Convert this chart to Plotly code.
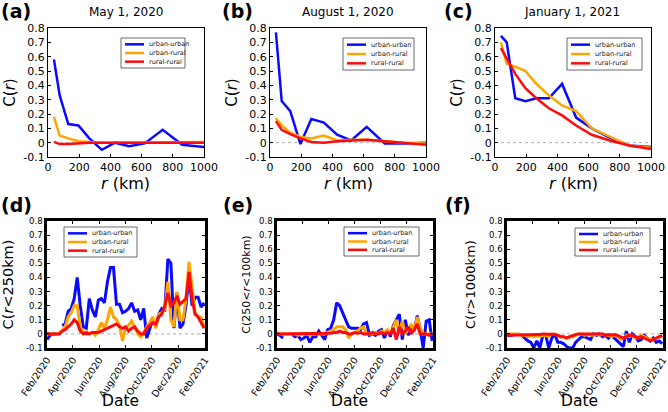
import plotly.graph_objects as go
import pandas as pd

W, H = 668, 412
FONT = "DejaVu Sans"
BLUE, ORANGE, RED = "#0a0aff", "#ffa500", "#ff0a0a"
SERIES_NAMES = ["urban-urban", "urban-rural", "rural-rural"]
SERIES_COLORS = [BLUE, ORANGE, RED]

# ---------------- top row: C(r) vs r ----------------
r_km = [38, 75, 130, 195, 265, 345, 430, 520, 620, 735, 860, 1000]
may_uu = [0.58, 0.33, 0.13, 0.12, 0.03, -0.05, 0.0, -0.025, -0.005, 0.09, -0.015, -0.03]
may_ur = [0.18, 0.05, 0.03, 0.01, 0.005, 0.0, 0.0, 0.0, 0.0, 0.0, 0.0, 0.005]
may_rr = [0.005, -0.01, -0.01, -0.005, 0.0, 0.0, 0.0, 0.0, 0.0, 0.0, 0.0, 0.0]
aug_uu = [0.77, 0.29, 0.22, -0.01, 0.165, 0.14, 0.055, 0.015, 0.11, -0.005, -0.005, 0.0]
aug_ur = [0.17, 0.12, 0.07, 0.04, 0.03, 0.05, 0.015, 0.02, 0.02, 0.01, 0.0, -0.005]
aug_rr = [0.15, 0.09, 0.06, 0.03, 0.005, 0.0, 0.01, 0.015, 0.02, 0.01, 0.0, -0.015]
jan_uu = [0.745, 0.70, 0.31, 0.29, 0.31, 0.31, 0.41, 0.175, 0.10, 0.035, -0.02, -0.03]
jan_ur = [0.70, 0.55, 0.53, 0.50, 0.41, 0.33, 0.26, 0.22, 0.10, 0.04, -0.02, -0.035]
jan_rr = [0.66, 0.59, 0.48, 0.38, 0.31, 0.24, 0.19, 0.12, 0.055, 0.015, -0.02, -0.045]

# ---------------- bottom row: weekly time series ----------------
dates = pd.date_range("2020-02-01", periods=53, freq="7D")
d_uu = [-0.04, -0.01, 0.0, 0.0, None, 0.06, 0.07, 0.16, 0.18, 0.25,
        0.40, 0.20, 0.05, 0.04, 0.25, 0.17, 0.12, 0.24, 0.25, 0.22,
        0.37, 0.47, 0.47, 0.21, 0.21, 0.15, 0.16, 0.18, 0.22, 0.16,
        0.17, 0.10, 0.18, -0.03, 0.04, 0.10, 0.06, 0.14, 0.18, 0.17,
        0.53, 0.50, 0.04, 0.29, 0.04, 0.07, 0.20, 0.42, 0.20, 0.26,
        0.26, 0.19, 0.22]
d_ur = [0.01, 0.0, 0.0, 0.0, 0.0, 0.02, 0.05, 0.12, 0.15, 0.20,
        0.20, 0.05, 0.02, 0.0, 0.0, 0.01, -0.01, 0.03, 0.08, 0.04,
        0.10, 0.19, 0.12, 0.10, 0.06, -0.05, 0.05, 0.06, 0.09, 0.05,
        0.0, -0.02, 0.01, 0.05, 0.08, 0.12, 0.04, 0.14, 0.15, 0.17,
        0.37, 0.10, 0.05, 0.30, 0.10, 0.10, 0.25, 0.51, 0.35, 0.15,
        0.12, 0.12, 0.05]
d_rr = [0.0, 0.0, 0.0, 0.0, 0.0, 0.02, 0.03, 0.05, 0.07, 0.10,
        0.08, 0.02, 0.0, 0.01, 0.0, 0.01, 0.01, 0.01, 0.02, 0.03,
        0.04, 0.05, 0.06, 0.07, 0.05, 0.04, 0.05, 0.02, 0.04, 0.05,
        0.02, 0.0, 0.0, 0.04, 0.06, 0.08, 0.07, 0.12, 0.14, 0.20,
        0.29, 0.20, 0.22, 0.27, 0.21, 0.23, 0.25, 0.44, 0.25, 0.14,
        0.12, 0.08, 0.04]
e_uu = [0.0, -0.01, -0.03, None, None, 0.0, -0.02, -0.01, -0.04, -0.03,
        -0.01, -0.06, -0.02, -0.02, 0.02, -0.01, -0.04, 0.03, 0.04, 0.10,
        0.22, 0.20, 0.15, 0.10, 0.05, 0.04, 0.04, 0.04, 0.03, 0.07,
        0.08, -0.01, 0.0, -0.01, 0.02, 0.03, -0.03, 0.03, -0.02, 0.06,
        0.10, 0.14, -0.04, 0.10, -0.01, 0.06, 0.02, 0.13, 0.03, -0.10,
        0.09, 0.10, -0.05]
e_ur = [0.01, 0.0, 0.0, 0.0, 0.0, 0.0, 0.0, -0.01, 0.0, 0.0,
        0.0, -0.01, 0.0, 0.0, 0.0, 0.0, 0.0, 0.01, 0.02, 0.03,
        0.05, 0.05, 0.05, 0.03, -0.03, 0.0, 0.01, 0.02, 0.04, 0.05,
        0.0, 0.0, 0.0, 0.01, 0.0, 0.02, 0.01, 0.03, 0.0, 0.05,
        0.10, 0.0, 0.09, 0.0, 0.03, 0.07, 0.02, 0.12, 0.04, 0.0,
        0.0, 0.0, 0.0]
e_rr = [0.0, 0.0, 0.0, 0.0, 0.0, 0.0, 0.0, 0.0, 0.0, 0.0,
        0.0, 0.0, 0.0, 0.0, 0.0, 0.0, 0.0, 0.0, 0.005, 0.01,
        0.01, 0.02, 0.01, 0.01, 0.0, 0.0, 0.01, 0.005, 0.01, 0.0,
        0.0, 0.0, 0.01, 0.0, 0.0, 0.01, 0.0, 0.01, 0.0, 0.04,
        -0.04, 0.05, 0.0, 0.02, 0.05, 0.0, 0.03, 0.07, 0.0, 0.0,
        0.0, -0.01, 0.0]
f_uu = [-0.01, -0.01, -0.01, None, None, -0.01, -0.03, -0.05, -0.06, -0.10,
        -0.05, -0.10, -0.01, -0.01, -0.10, -0.03, 0.0, -0.06, -0.06, -0.07,
        -0.09, -0.10, -0.10, -0.06, -0.04, -0.02, -0.02, -0.03, -0.04, 0.0,
        -0.01, 0.0, -0.02, -0.01, -0.03, -0.01, -0.03, -0.05, -0.07, -0.09,
        0.02, -0.06, 0.0, -0.02, -0.05, -0.04, -0.01, -0.03, -0.05, -0.03,
        -0.06, -0.05, -0.07]
f_ur = [0.0, 0.0, 0.0, 0.0, 0.0, -0.01, -0.01, -0.02, -0.01, -0.02,
        -0.01, -0.02, -0.01, -0.01, -0.02, 0.0, 0.0, -0.01, -0.02, -0.02,
        -0.03, -0.02, -0.02, -0.01, 0.0, 0.0, -0.01, 0.0, -0.01, -0.01,
        0.0, -0.01, 0.0, -0.01, -0.01, -0.02, -0.01, -0.02, -0.04, -0.03,
        -0.01, -0.02, -0.01, -0.03, -0.02, -0.01, -0.02, -0.03, -0.04, -0.04,
        -0.03, -0.02, -0.01]
f_rr = [-0.01, -0.01, -0.01, -0.01, -0.01, -0.005, -0.005, -0.01, -0.005, -0.005,
        -0.005, -0.005, 0.0, 0.0, -0.005, -0.005, -0.005, -0.01, -0.02, -0.02,
        -0.03, -0.02, -0.01, -0.005, 0.0, 0.0, -0.005, -0.005, -0.005, 0.0,
        -0.005, -0.005, 0.0, -0.01, -0.005, -0.01, -0.005, -0.01, -0.02, -0.03,
        -0.02, -0.01, -0.01, -0.02, -0.03, -0.02, -0.03, -0.04, -0.05, -0.04,
        -0.03, -0.02, -0.01]

y_ticks = [-0.1, 0, 0.1, 0.2, 0.3, 0.4, 0.5, 0.6, 0.7, 0.8]
y_ticktext = ["-0.1", "0", "0.1", "0.2", "0.3", "0.4", "0.5", "0.6", "0.7", "0.8"]
r_ticks = [0, 200, 400, 600, 800, 1000]
date_ticks = ["2020-02-01", "2020-04-01", "2020-06-01", "2020-08-01",
              "2020-10-01", "2020-12-01", "2021-02-01"]
date_ticktext = ["Feb/2020", "Apr/2020", "Jun/2020", "Aug/2020",
                 "Oct/2020", "Dec/2020", "Feb/2021"]

top_titles = ["May 1, 2020", "August 1, 2020", "January 1, 2021"]
bottom_ytitles = ["C(<i>r</i>&lt;250km)", "C(250&lt;<i>r</i>&lt;100km)", "C(<i>r</i>&gt;1000km)"]
panel_letters = ["(a)", "(b)", "(c)", "(d)", "(e)", "(f)"]

# ---------------- layout geometry (pixels) ----------------
boxes = [(48, 204, 28, 157), (270, 426, 28, 157), (495, 651, 28, 157),
         (47, 205, 221, 348), (277, 433, 221, 348), (507, 663, 221, 348)]
legend_boxes = [(121, 185, 38, 68), (343, 414, 38, 70), (567, 642, 38, 70),
                (64, 137, 227, 257), (344, 419, 227, 256), (575, 650, 228, 256)]
letter_pos = [(16, 11), (238, 11), (458, 11), (16, 205), (238, 205), (458, 205)]
title_pos = [(126, 12), (348, 12), (572, 12)]
ytitle_fs = [14.5, 11, 13]
ytitle_standoff = [4, 4, 4, 11, 4, 8]


def px(x):
    return x / W


def py(y):
    return 1 - y / H


fig = go.Figure()

top_data = [(may_uu, may_ur, may_rr), (aug_uu, aug_ur, aug_rr), (jan_uu, jan_ur, jan_rr)]
bottom_data = [(d_uu, d_ur, d_rr), (e_uu, e_ur, e_rr), (f_uu, f_ur, f_rr)]

for k in range(6):
    ax = "" if k == 0 else str(k + 1)
    xa, ya = "x" + ax, "y" + ax
    if k < 3:
        xs = r_km
        sets = top_data[k]
        lw = 2.5
    else:
        xs = dates
        sets = bottom_data[k - 3]
        lw = 3
    for vals, name, col in zip(sets, SERIES_NAMES, SERIES_COLORS):
        fig.add_trace(go.Scatter(x=xs, y=vals, mode="lines", name=name,
                                 line=dict(color=col, width=lw),
                                 xaxis=xa, yaxis=ya, showlegend=False,
                                 connectgaps=False))

layout = dict(width=W, height=H, margin=dict(l=0, r=0, t=0, b=0),
              paper_bgcolor="white", plot_bgcolor="white",
              font=dict(family=FONT, color="black"))
shapes, annotations = [], []

for k in range(6):
    L, R, T, B = boxes[k]
    ax = "" if k == 0 else str(k + 1)
    top = k < 3
    xaxis = dict(domain=[px(L), px(R)], anchor="y" + ax, automargin=False,
                 showline=True, linecolor="black", mirror="ticks" if not top else True,
                 linewidth=1 if top else 2.5, ticks="inside",
                 ticklen=3, tickcolor="black", showgrid=False, zeroline=False,
                 ticklabeloverflow="allow")
    yaxis = dict(domain=[py(B), py(T)], anchor="x" + ax, automargin=False,
                 range=[-0.1, 0.8], tickvals=y_ticks, ticktext=y_ticktext,
                 showline=True, linecolor="black", mirror="ticks" if not top else True,
                 linewidth=1 if top else 2.5, ticks="inside", ticklen=3,
                 tickcolor="black", showgrid=False, zeroline=False)
    if top:
        xaxis.update(range=[0, 1000], tickvals=r_ticks, tickfont=dict(size=11))
        yaxis.update(tickfont=dict(size=11),
                     title=dict(text="C(<i>r</i>)", font=dict(size=15),
                                standoff=ytitle_standoff[k]))
        annotations.append(dict(text="<i>r</i> (km)", xref="paper", yref="paper",
                                x=px((L + R) / 2), y=py(183), xanchor="center",
                                yanchor="middle", showarrow=False,
                                font=dict(size=16)))
    else:
        xaxis.update(type="date", range=["2020-02-01", "2021-02-01"],
                     tickvals=date_ticks, ticktext=date_ticktext, tickangle=-56,
                     tickfont=dict(size=9.5))
        yaxis.update(tickfont=dict(size=8.5),
                     title=dict(text=bottom_ytitles[k - 3],
                                font=dict(size=ytitle_fs[k - 3]),
                                standoff=ytitle_standoff[k]))
        annotations.append(dict(text="Date", xref="paper", yref="paper",
                                x=px((L + R) / 2 - 6), y=py(401), xanchor="center",
                                yanchor="middle", showarrow=False,
                                font=dict(size=15.5)))
    layout["xaxis" + ax] = xaxis
    layout["yaxis" + ax] = yaxis

    # dotted zero reference line
    shapes.append(dict(type="line", xref="x" + ax + " domain", yref="y" + ax,
                       x0=0, x1=1, y0=0, y1=0,
                       line=dict(color="#888888", width=0.7, dash="dot"),
                       layer="below"))

    # legend box
    lL, lR, lT, lB = legend_boxes[k]
    shapes.append(dict(type="rect", xref="paper", yref="paper",
                       x0=px(lL), x1=px(lR), y0=py(lB), y1=py(lT),
                       fillcolor="white", line=dict(color="#444444", width=0.8)))
    step = (lB - lT - 4) / 3.0
    for j, (name, col) in enumerate(zip(SERIES_NAMES, SERIES_COLORS)):
        yy = lT + 2 + step * (j + 0.5)
        shapes.append(dict(type="line", xref="paper", yref="paper",
                           x0=px(lL + 4), x1=px(lL + 23), y0=py(yy), y1=py(yy),
                           line=dict(color=col, width=2.5)))
        annotations.append(dict(text=name, xref="paper", yref="paper",
                                x=px(lL + 26), y=py(yy), xanchor="left",
                                yanchor="middle", showarrow=False,
                                font=dict(size=6.5, color="#222222")))

    # panel letter
    lx, ly = letter_pos[k]
    annotations.append(dict(text="<b>" + panel_letters[k] + "</b>", xref="paper",
                            yref="paper", x=px(lx), y=py(ly), xanchor="center",
                            yanchor="middle", showarrow=False,
                            font=dict(size=19)))
    if top:
        tx, ty = title_pos[k]
        annotations.append(dict(text=top_titles[k], xref="paper", yref="paper",
                                x=px(tx), y=py(ty), xanchor="center",
                                yanchor="middle", showarrow=False,
                                font=dict(size=12)))

layout["shapes"] = shapes
layout["annotations"] = annotations
fig.update_layout(**layout)
fig.write_html("out.html", config={"displayModeBar": False},
               post_script="document.body.style.margin='0';")
